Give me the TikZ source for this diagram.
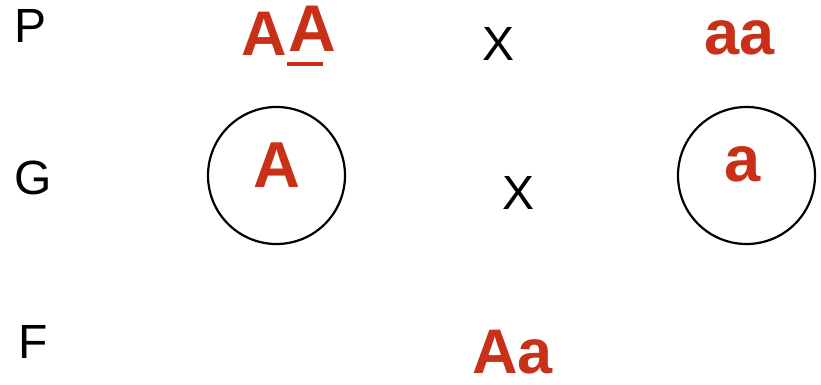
\documentclass[tikz,border=0pt]{standalone}
\usepackage{fontspec}
\setmainfont{Liberation Sans}
\definecolor{genred}{RGB}{200,48,24}
\begin{document}
\begin{tikzpicture}[x=1pt,y=-1pt,
  lbl/.style={anchor=base,inner sep=0pt,font=\fontsize{48}{50}\selectfont},
  gen/.style={anchor=base,inner sep=0pt,text=genred,font=\fontsize{63}{66}\selectfont\bfseries},
  gamete/.style={circle,draw,line width=2.2pt,minimum size=137pt,inner sep=0pt}]
\useasboundingbox (0,0) rectangle (821,385);
% row labels
\node[lbl] (P) at (31,43) {P};
\node[lbl] (G) at (33.5,194) {G};
\node[lbl] (F) at (33,358) {F};
% crosses
\node[lbl] (x1) at (498,61) {X};
\node[lbl] (x2) at (518,209) {X};
% parents
\node[gen] (A1) at (264,56) {A};
\node[gen,font=\fontsize{66}{68}\selectfont\bfseries] (A2) at (312.5,51.5) {A};
\fill[genred] (287,62) rectangle (323,66);
\node[gen] (aa) at (739.5,54.5) {aa};
% gametes
\node[gamete] (cA) at (276.5,175.5) {};
\node[gamete] (ca) at (746.5,175.5) {};
\node[gen,font=\fontsize{65}{68}\selectfont\bfseries] (gA) at (276.5,187) {A};
\node[gen,font=\fontsize{65}{68}\selectfont\bfseries] (ga) at (743,181.5) {a};
% offspring
\node[gen] (Aa) at (512.5,373) {Aa};
\end{tikzpicture}
\end{document}
